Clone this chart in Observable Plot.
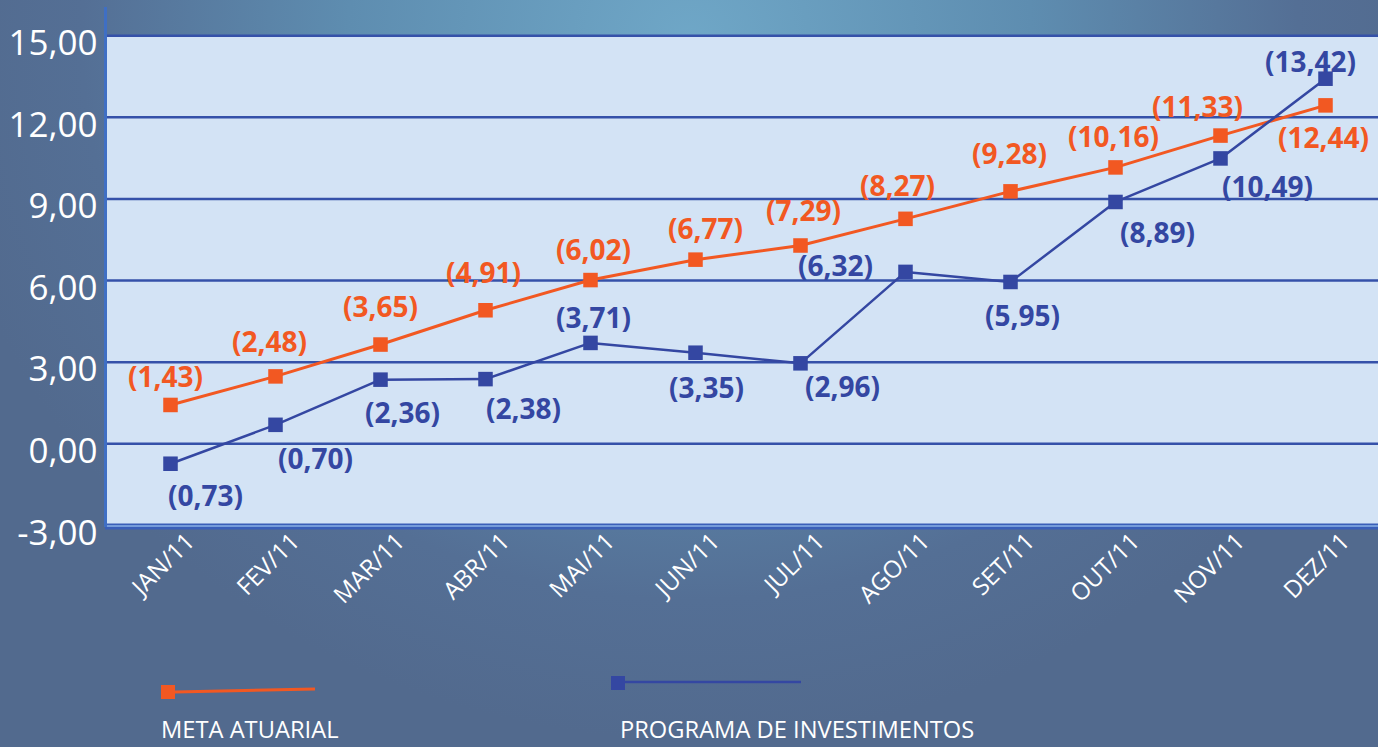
<!DOCTYPE html>
<html>
<head>
<meta charset="utf-8">
<script src="https://cdn.jsdelivr.net/npm/d3@7"></script>
<script src="https://cdn.jsdelivr.net/npm/@observablehq/plot@0.6"></script>
<style>
  html, body { margin: 0; padding: 0; }
  body {
    width: 1378px; height: 747px; overflow: hidden;
    font-family: "Open Sans", sans-serif;
    background: radial-gradient(ellipse 760px 700px at 690px 40px, #6fa7c7 0%, #5e8db0 45%, #546f95 80%, #526a8e 100%);
  }
  #chart { position: absolute; left: 0; top: 0; }
  #legend { position: absolute; left: 0; top: 650px; width: 1378px; height: 97px; }
  .lg-text { position: absolute; color: #ffffff; font-size: 23.7px; white-space: nowrap; }
</style>
</head>
<body>
<div id="chart"></div>
<div id="legend"></div>
<script>
const months = ["JAN/11","FEV/11","MAR/11","ABR/11","MAI/11","JUN/11","JUL/11","AGO/11","SET/11","OUT/11","NOV/11","DEZ/11"];
const metaAtuarial = [1.43, 2.48, 3.65, 4.91, 6.02, 6.77, 7.29, 8.27, 9.28, 10.16, 11.33, 12.44];
const programaInvestimentos = [-0.73, 0.70, 2.36, 2.38, 3.71, 3.35, 2.96, 6.32, 5.95, 8.89, 10.49, 13.42];
const metaLabels = ["(1,43)","(2,48)","(3,65)","(4,91)","(6,02)","(6,77)","(7,29)","(8,27)","(9,28)","(10,16)","(11,33)","(12,44)"];
const programaLabels = ["(0,73)","(0,70)","(2,36)","(2,38)","(3,71)","(3,35)","(2,96)","(6,32)","(5,95)","(8,89)","(10,49)","(13,42)"];
const yTicks = [-3, 0, 3, 6, 9, 12, 15];
const yTickLabels = ["-3,00","0,00","3,00","6,00","9,00","12,00","15,00"];
const seriesNames = ["META ATUARIAL", "PROGRAMA DE INVESTIMENTOS"];

// label placement (annotation styling), offsets in px from each point
const metaLabelOffsets = [[-5,-27],[-6,-33],[0,-37],[-2,-36],[3,-29],[10,-30],[3,-33],[-8,-32],[-1,-36],[-2,-29],[-23,-28],[-2,34]];
const progLabelOffsets = [[35,33],[40,35],[22,34],[38,31],[3,-24],[11,36],[42,25],[-70,-5],[12,35],[42,32],[47,30],[-15,-16]];

const ORANGE = "#f25822";
const BLUE = "#3447a2";

const meta = months.map((m, i) => ({month: m, value: metaAtuarial[i], label: metaLabels[i], dx: metaLabelOffsets[i][0], dy: metaLabelOffsets[i][1]}));
const prog = months.map((m, i) => ({month: m, value: programaInvestimentos[i], label: programaLabels[i], dx: progLabelOffsets[i][0], dy: progLabelOffsets[i][1]}));

function labels(data, color) {
  return data.map(d => Plot.text([d], {
    x: "month", y: "value", text: "label", dx: d.dx, dy: d.dy,
    fill: color, fontSize: 28, fontWeight: "bold"
  }));
}

const chart = Plot.plot({
  width: 1378,
  height: 650,
  marginLeft: 105,
  marginRight: 0,
  marginTop: 8,
  marginBottom: 125,
  style: {background: "transparent", fontFamily: "Open Sans, sans-serif", overflow: "visible"},
  x: {type: "point", domain: months, range: [165, 1330], padding: 0},
  y: {domain: [-3, 16]},
  marks: [
    Plot.rect([0], {y1: -3, y2: 15, fill: "#d3e3f5"}),
    Plot.ruleY(yTicks.filter(t => t > -3), {stroke: "#3551a9", strokeWidth: 2.5}),
    Plot.ruleY([-3], {stroke: "#3a5fb8", strokeWidth: 6, dy: 1}),
    Plot.ruleY([-3], {stroke: "#8ab0e6", strokeWidth: 1.5, dy: 0.5}),
    Plot.frame({anchor: "left", stroke: "#3f6fc4", strokeWidth: 3}),
    Plot.axisY({ticks: yTicks, tickFormat: d => yTickLabels[yTicks.indexOf(d)], tickSize: 0, tickPadding: 8, fontSize: 35, fill: "#ffffff", dy: 8, label: null}),
    Plot.axisX({tickRotate: -45, tickSize: 0, tickPadding: 0, fontSize: 24, fill: "#ffffff", dx: 20, dy: 12, label: null}),
    Plot.line(meta, {x: "month", y: "value", stroke: ORANGE, strokeWidth: 3}),
    Plot.line(prog, {x: "month", y: "value", stroke: BLUE, strokeWidth: 2.5}),
    Plot.dot(meta, {x: "month", y: "value", symbol: "square", r: 8.2, fill: ORANGE}),
    Plot.dot(prog, {x: "month", y: "value", symbol: "square", r: 8.2, fill: BLUE}),
    ...labels(meta, ORANGE),
    ...labels(prog, BLUE)
  ]
});
document.getElementById("chart").appendChild(chart);

// Legend below the chart
const legend = d3.select("#legend");
const sw = legend.append("svg").attr("width", 1378).attr("height", 97).style("position", "absolute").style("left", "0px").style("top", "0px");
const legendItems = [
  {name: seriesNames[0], color: ORANGE, sq: [161, 35], line: [[175, 42], [315, 39]], textX: 161, width: 3},
  {name: seriesNames[1], color: BLUE, sq: [611, 26], line: [[625, 32], [801, 32]], textX: 620, width: 2.5}
];
legendItems.forEach(it => {
  sw.append("line").attr("x1", it.line[0][0]).attr("y1", it.line[0][1]).attr("x2", it.line[1][0]).attr("y2", it.line[1][1])
    .attr("stroke", it.color).attr("stroke-width", it.width);
  sw.append("rect").attr("x", it.sq[0]).attr("y", it.sq[1]).attr("width", 14).attr("height", 14).attr("fill", it.color);
});
legend.selectAll("div.lg-text").data(legendItems).join("div")
  .attr("class", "lg-text")
  .style("left", d => d.textX + "px")
  .style("top", "63px")
  .text(d => d.name);
</script>
</body>
</html>
